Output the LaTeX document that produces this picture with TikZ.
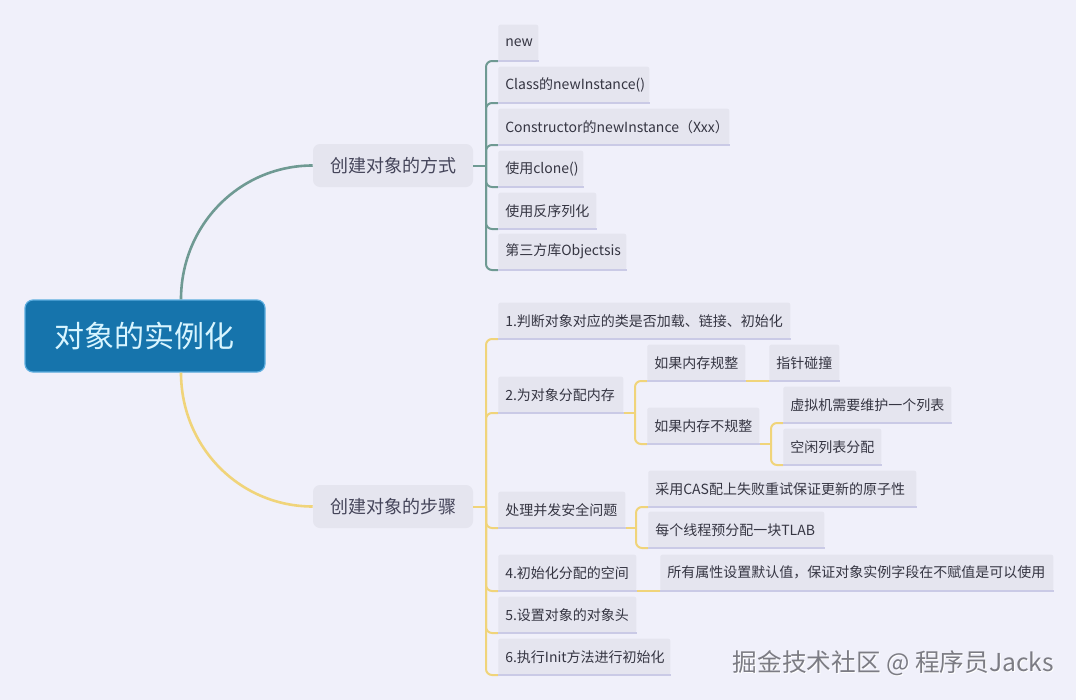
\documentclass[tikz,border=0pt]{standalone}
\usepackage{fontspec}
\setmainfont{Noto Sans CJK SC}
\usetikzlibrary{calc}
\newdimen\px \px=0.75pt
\definecolor{bgc}{HTML}{F0F0FA}
\definecolor{nodefill}{HTML}{E5E5EF}
\definecolor{uline}{HTML}{CACAE6}
\definecolor{greenl}{HTML}{6F9A93}
\definecolor{yellowl}{HTML}{F0D47A}
\definecolor{rootfill}{HTML}{1674AC}
\definecolor{rootborder}{HTML}{5EAEDF}
\definecolor{roottext}{HTML}{D8F5FF}
\definecolor{txt}{HTML}{353542}
\definecolor{mtxt}{HTML}{45455A}
\definecolor{wmtxt}{HTML}{7C7C84}
\tikzset{
  rootbox/.style={fill=rootfill, draw=rootborder, line width=1.2\px, rounded corners=8\px,
    minimum width=240\px, minimum height=72\px, text=roottext, font=\fontsize{22.5}{27}\selectfont},
  mainbox/.style={fill=nodefill, rounded corners=7\px, minimum width=160\px, minimum height=43\px,
    text=mtxt, font=\fontsize{13.5}{16}\selectfont, inner sep=0pt},
  leaf/.style={anchor=south west, fill=nodefill, rounded corners=2\px, minimum height=36\px,
    inner xsep=7\px, inner ysep=0pt, align=left, text=txt, font=\fontsize{10.5}{12.6}\selectfont},
  ulinestyle/.style={draw=uline, line width=2\px},
  curveA/.style={draw=greenl, line width=2.6\px},
  curveB/.style={draw=yellowl, line width=2.6\px},
  brA/.style={draw=greenl, line width=2\px, rounded corners=6\px},
  brB/.style={draw=yellowl, line width=2\px, rounded corners=6\px},
  wm/.style={anchor=west, font=\fontsize{18.5}{22}\selectfont},
}
\begin{document}
\begin{tikzpicture}[x=0.75pt,y=-0.75pt]
\fill[bgc] (0,0) rectangle (1076,700);
\useasboundingbox (0,0) rectangle (1076,700);

% root and main topics
\node[rootbox] (root) at (145,336) {对象的实例化};
\node[mainbox] (m1) at (393,165.5) {创建对象的方式};
\node[mainbox] (m2) at (393,506.5) {创建对象的步骤};

% first group
\node[leaf, text width=26\px]  (c11) at (498,61)  {new};
\node[leaf, text width=137\px] (c12) at (498,103) {Class的newInstance()};
\node[leaf, text width=217\px] (c13) at (498,145) {Constructor的newInstance（Xxx）};
\node[leaf, text width=71\px]  (c14) at (498,187) {使用clone()};
\node[leaf, text width=84\px]  (c15) at (498,229) {使用反序列化};
\node[leaf, text width=114\px] (c16) at (498,270) {第三方库Objectsis};

% second group
\node[leaf, text width=278\px] (d1) at (498,339) {1.判断对象对应的类是否加载、链接、初始化};
\node[leaf, text width=111\px] (d2) at (498,413) {2.为对象分配内存};
\node[leaf, text width=113\px] (d3) at (498,528) {处理并发安全问题};
\node[leaf, text width=124\px] (d4) at (498,591) {4.初始化分配的空间};
\node[leaf, text width=124\px] (d5) at (498,633) {5.设置对象的对象头};
\node[leaf, text width=158\px] (d6) at (498,675) {6.执行Init方法进行初始化};

\node[leaf, text width=84\px]  (e1) at (647,381) {如果内存规整};
\node[leaf, text width=98\px]  (e2) at (647,444) {如果内存不规整};
\node[leaf, text width=56\px]  (f1) at (769,381) {指针碰撞};
\node[leaf, text width=154\px] (f2) at (783,423) {虚拟机需要维护一个列表};
\node[leaf, text width=84\px]  (f3) at (783,465) {空闲列表分配};
\node[leaf, text width=254\px] (g1) at (648,507) {采用CAS配上失败重试保证更新的原子性};
\node[leaf, text width=162\px] (g2) at (648,548) {每个线程预分配一块TLAB};
\node[leaf, text width=379\px] (h1) at (660,591) {所有属性设置默认值，保证对象实例字段在不赋值是可以使用};

% junctions
\coordinate (j1) at (486,165.5);
\coordinate (j2) at (486,506.5);
\coordinate (jd2) at (635,413);
\coordinate (je2) at (771,444);
\coordinate (jd3) at (636,528);

% root curves
\draw[curveA] ([xshift=36\px]root.north) .. controls +(0,-74.5) and +(-73,0) .. (m1.west);
\draw[curveB] ([xshift=36\px]root.south) .. controls +(0,74.5) and +(-73,0) .. (m2.west);

% group 1 brackets
\draw[curveA, line width=2\px] (m1.east) -- (j1);
\foreach \n in {c11,c12,c13,c14,c15,c16}
  \draw[brA] (j1) |- (\n.south west);

% group 2 brackets
\draw[curveB, line width=2\px] (m2.east) -- (j2);
\foreach \n in {d1,d2,d3,d4,d5,d6}
  \draw[brB] (j2) |- (\n.south west);

\draw[brB] (d2.south east) -- (jd2);
\foreach \n in {e1,e2}
  \draw[brB] (jd2) |- (\n.south west);
\draw[brB] (e1.south east) -- (f1.south west);
\draw[brB] (e2.south east) -- (je2);
\foreach \n in {f2,f3}
  \draw[brB] (je2) |- (\n.south west);
\draw[brB] (d3.south east) -- (jd3);
\foreach \n in {g1,g2}
  \draw[brB] (jd3) |- (\n.south west);
\draw[brB] (d4.south east) -- (h1.south west);

% underlines
\foreach \n in {c11,c12,c13,c14,c15,c16,d1,d2,d3,d4,d5,d6,e1,e2,f1,f2,f3,g1,g2,h1}
  \draw[ulinestyle] (\n.south west) -- (\n.south east);

% watermark
\node[wm, text=white] (wms) at (729,664) {掘金技术社区 @ 程序员Jacks};
\node[wm, text=wmtxt] (wmk) at (728,663) {掘金技术社区 @ 程序员Jacks};
\end{tikzpicture}
\end{document}
